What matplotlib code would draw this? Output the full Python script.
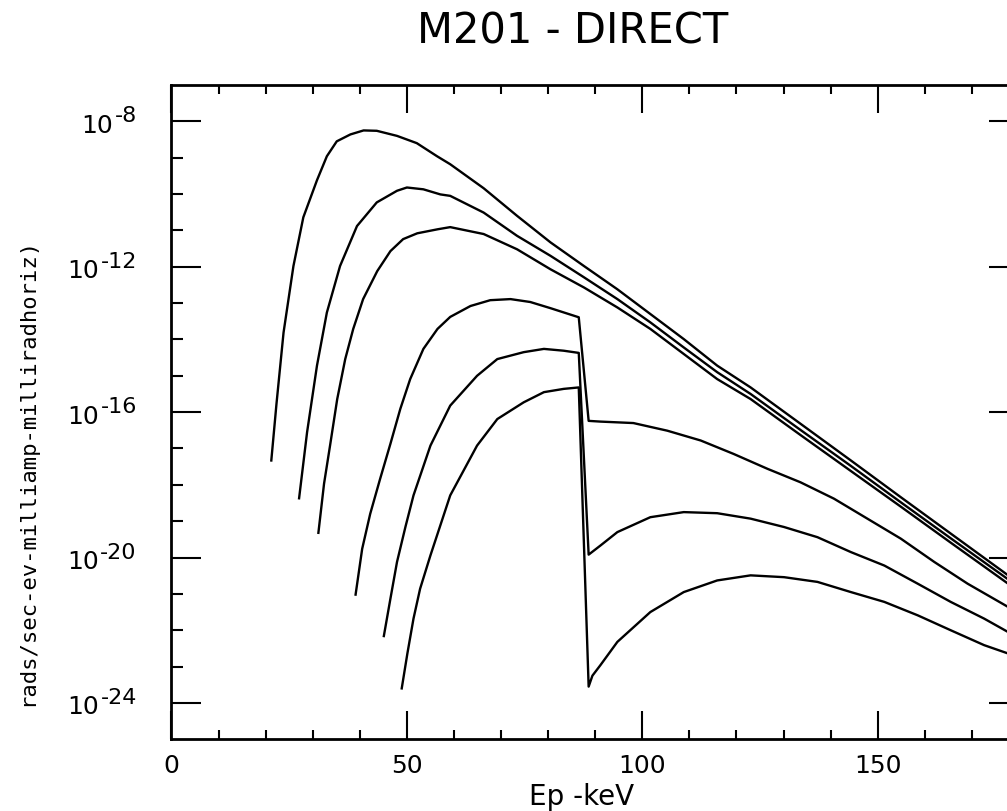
import numpy as np
import matplotlib
matplotlib.use("Agg")
import matplotlib.pyplot as plt
from matplotlib.ticker import FixedLocator, NullFormatter

plt.rcParams["font.family"] = "DejaVu Sans"

# ---- data: photon energy (keV) and log10(dose rate) ----
c1_kev = [21.2, 22.3, 23.8, 25.9, 28.0, 30.9, 33.0, 35.1, 38.0, 40.8, 43.6, 47.9,
          52.1, 56.4, 59.2, 66.3, 73.4, 80.5, 87.6, 94.7, 101.7, 108.8, 115.9,
          123.0, 133.6, 144.3, 154.9, 165.5, 177.7]
c1_log = [-17.33, -15.77, -13.81, -11.98, -10.64, -9.62, -8.96, -8.55, -8.36, -8.25,
          -8.26, -8.40, -8.60, -8.96, -9.18, -9.84, -10.60, -11.33, -11.98, -12.62,
          -13.30, -13.99, -14.72, -15.32, -16.32, -17.33, -18.34, -19.34, -20.49]

c2_kev = [27.1, 28.8, 30.9, 33.0, 35.8, 39.4, 43.6, 47.9, 50.0, 53.5, 57.1, 59.2,
          66.3, 73.4, 80.5, 87.6, 94.7, 101.7, 108.8, 115.9, 123.0, 133.6, 144.3,
          154.9, 165.5, 177.7]
c2_log = [-18.37, -16.55, -14.72, -13.26, -11.98, -10.88, -10.23, -9.91, -9.82, -9.87,
          -10.01, -10.05, -10.51, -11.15, -11.70, -12.29, -12.89, -13.53, -14.22,
          -14.90, -15.50, -16.49, -17.48, -18.48, -19.47, -20.60]

c3_kev = [31.2, 32.4, 33.7, 35.2, 36.9, 38.6, 40.7, 43.7, 46.5, 49.2, 52.2, 56.5,
          59.2, 66.3, 73.4, 80.5, 87.6, 94.7, 101.7, 108.8, 115.9, 123.0, 133.6,
          144.3, 154.9, 165.5, 177.7]
c3_log = [-19.32, -17.97, -16.90, -15.64, -14.54, -13.71, -12.89, -12.12, -11.57,
          -11.24, -11.08, -10.97, -10.91, -11.10, -11.52, -12.07, -12.57, -13.12,
          -13.71, -14.40, -15.09, -15.64, -16.63, -17.62, -18.60, -19.59, -20.72]

c4_kev = [39.1, 40.5, 42.2, 44.3, 46.5, 48.6, 50.7, 53.5, 56.5, 59.2, 63.5, 67.7,
          72.0, 76.2, 80.5, 86.5, 88.6, 91.1, 98.1, 105.3, 112.4, 119.4, 126.6,
          133.6, 140.7, 147.8, 154.9, 162.0, 169.1, 177.7]
c4_log = [-21.02, -19.76, -18.80, -17.84, -16.87, -15.91, -15.09, -14.26, -13.71,
          -13.38, -13.08, -12.92, -12.89, -12.97, -13.14, -13.39, -16.24, -16.26,
          -16.30, -16.51, -16.78, -17.15, -17.56, -17.93, -18.38, -18.93, -19.48,
          -20.12, -20.72, -21.36]

c5_kev = [45.1, 46.5, 47.9, 49.7, 51.4, 55.0, 59.2, 64.9, 69.2, 74.8, 79.1, 83.3,
          86.5, 88.6, 91.1, 94.7, 101.7, 108.8, 115.9, 123.0, 130.1, 137.2, 144.3,
          151.4, 158.5, 165.5, 172.6, 177.7]
c5_log = [-22.16, -21.13, -20.12, -19.15, -18.29, -16.92, -15.82, -15.00, -14.54,
          -14.35, -14.26, -14.31, -14.37, -19.92, -19.67, -19.30, -18.89, -18.75,
          -18.78, -18.93, -19.16, -19.44, -19.85, -20.22, -20.72, -21.22, -21.68,
          -22.05]

c6_kev = [48.9, 50.1, 51.4, 52.8, 55.0, 59.2, 64.9, 69.2, 74.8, 79.1, 83.3, 86.5,
          88.6, 89.4, 91.1, 94.7, 101.7, 108.8, 115.9, 123.0, 130.1, 137.2, 144.3,
          151.4, 158.5, 165.5, 172.6, 177.7]
c6_log = [-23.60, -22.64, -21.68, -20.86, -19.94, -18.29, -16.92, -16.19, -15.73,
          -15.45, -15.36, -15.32, -23.55, -23.25, -22.96, -22.32, -21.50, -20.95,
          -20.63, -20.49, -20.54, -20.67, -20.95, -21.22, -21.59, -22.00, -22.41,
          -22.64]

curves = [(c1_kev, c1_log), (c2_kev, c2_log), (c3_kev, c3_log),
          (c4_kev, c4_log), (c5_kev, c5_log), (c6_kev, c6_log)]

x_major = [0, 50, 100, 150]
x_minor = [10, 20, 30, 40, 60, 70, 80, 90, 110, 120, 130, 140, 160, 170]
y_label_exps = [-8, -12, -16, -20, -24]
y_minor_exps = [-9, -10, -11, -13, -14, -15, -17, -18, -19, -21, -22, -23]

# ---- figure -----------------------------------------------------------
fig = plt.figure(figsize=(10.07, 8.12), dpi=100)
ax = fig.add_axes([0.1703, 0.0883, 0.8416, 0.8058])

for kev, lg in curves:
    ax.plot(kev, 10.0 ** np.array(lg), color="black", lw=1.7)

ax.set_yscale("log")
ax.set_xlim(0, 180)
ax.set_ylim(1e-25, 1e-7)

ax.xaxis.set_major_locator(FixedLocator(x_major))
ax.xaxis.set_minor_locator(FixedLocator(x_minor))
ax.yaxis.set_major_locator(FixedLocator([10.0 ** e for e in y_label_exps]))
ax.yaxis.set_minor_locator(FixedLocator([10.0 ** e for e in y_minor_exps]))
ax.yaxis.set_minor_formatter(NullFormatter())
ax.set_xticklabels([str(v) for v in x_major])

ax.tick_params(which="both", direction="in", top=True, right=True,
               width=1.5, color="black")
ax.tick_params(axis="x", which="major", length=20, pad=10, labelsize=18)
ax.tick_params(axis="x", which="minor", length=6.5)
ax.tick_params(axis="y", which="major", length=21.6, labelleft=False)
ax.tick_params(axis="y", which="minor", length=8.6)
for s in ax.spines.values():
    s.set_linewidth(2)

# y labels drawn as "10" with a near full-size raised exponent
for e in y_label_exps:
    sup = ax.annotate(f"{e}", xy=(0, 10.0 ** e), xycoords=("axes fraction", "data"),
                      xytext=(-25, 0), textcoords="offset points",
                      ha="right", va="baseline", fontsize=16)
    ax.annotate("10", xy=(0, 10.0 ** e), xycoords=(sup, "data"),
                xytext=(-1, -7.5), textcoords="offset points",
                ha="right", va="baseline", fontsize=18)

fig.text(573 / 1007, 1 - 31 / 812, "M201 - DIRECT", ha="center", va="center",
         fontsize=30)
fig.text(582 / 1007, 1 - 797 / 812, "Ep -keV", ha="center", va="center",
         fontsize=20)
fig.text(27 / 1007, 1 - 472 / 812, "rads/sec-ev-milliamp-milliradhoriz)",
         rotation=90, ha="center", va="center", fontsize=16,
         family="DejaVu Sans Mono")

fig.savefig("out.png", dpi=100)
